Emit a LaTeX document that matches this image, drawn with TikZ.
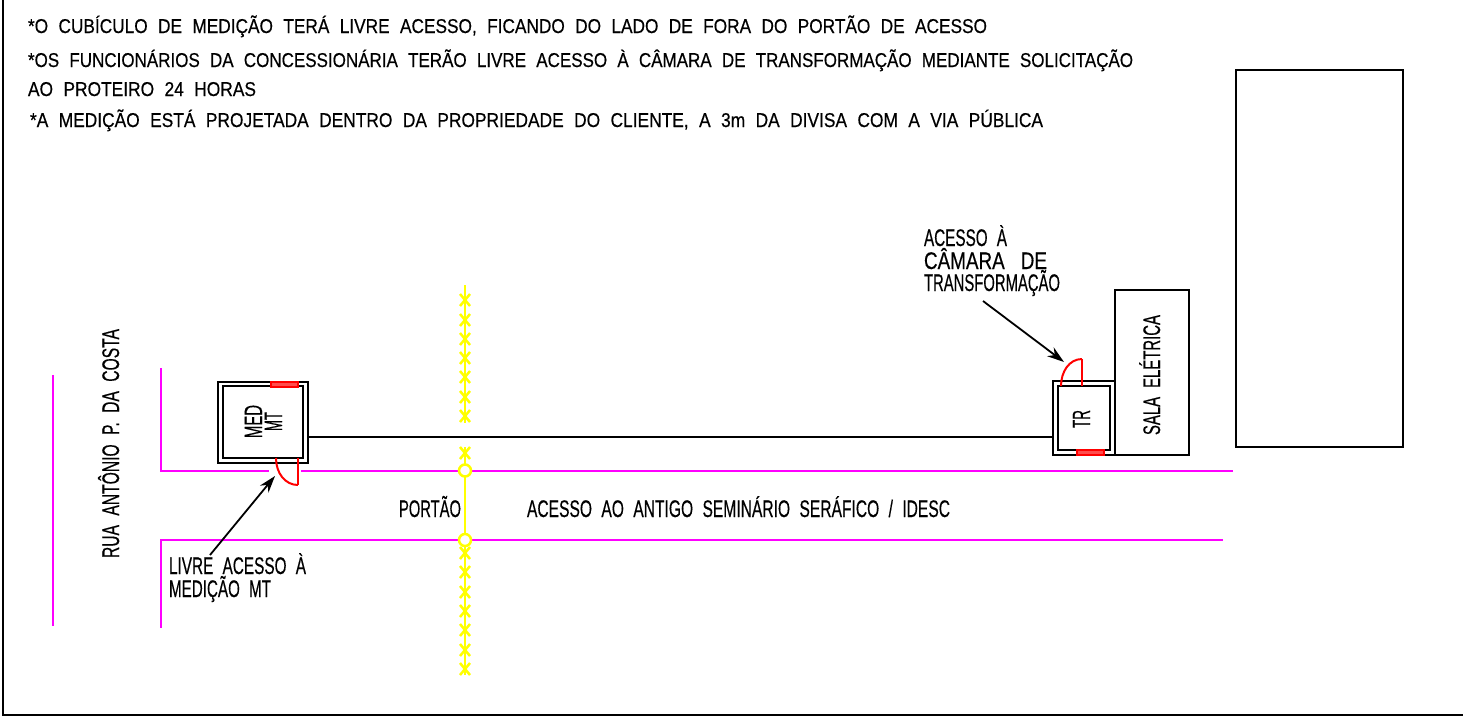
\documentclass[tikz,border=0pt]{standalone}
\usepackage{fontspec}
\usepackage{graphicx}
\setmainfont{Liberation Sans}[FakeBold=0.5]
\usetikzlibrary{arrows.meta}
\definecolor{cadmag}{RGB}{255,0,255}
\definecolor{cadyel}{RGB}{255,255,0}
\definecolor{cadred}{RGB}{255,0,0}
\newcommand{\fitw}[3]{\fontsize{#1}{#1}\selectfont\resizebox{#2pt}{\height}{#3}}
\newcommand{\wg}{\hspace{0.6em}}
\tikzset{
  x=1pt,y=-1pt,
  lbl/.style={anchor=base west,inner sep=0pt,outer sep=0pt,text=black},
  boxn/.style={draw=black,line width=2pt,inner sep=0pt,outer sep=0pt,anchor=north west},
  blk/.style={draw=black,line width=2pt},
  mag/.style={draw=cadmag,line width=2pt},
  yel/.style={draw=cadyel,line width=2.5pt},
  doorline/.style={draw=cadred,line width=2pt},
  redbar/.style={draw=cadred,fill=cadred!70!white,line width=1.5pt,inner sep=0pt,outer sep=0pt,anchor=north west},
  gatepost/.style={draw=cadyel,line width=2.5pt,fill=white,circle,inner sep=0pt,minimum size=12pt},
  callout/.style={draw=black,line width=1.8pt,-{Stealth[length=17pt,width=11pt]}}
}
\begin{document}
\begin{tikzpicture}
\useasboundingbox (0,0) rectangle (1463,720);
% frame
\draw[blk] (3,0) -- (3,715) -- (1463,715);
% notes
\node[lbl] (n1) at (28,33) {\fitw{20}{959}{*O\wg CUBÍCULO\wg DE\wg MEDIÇÃO\wg TERÁ\wg LIVRE\wg ACESSO,\wg FICANDO\wg DO\wg LADO\wg DE\wg FORA\wg DO\wg PORTÃO\wg DE\wg ACESSO}};
\node[lbl] (n2) at (28,67) {\fitw{20}{1105}{*OS\wg FUNCIONÁRIOS\wg DA\wg CONCESSIONÁRIA\wg TERÃO\wg LIVRE\wg ACESSO\wg À\wg CÂMARA\wg DE\wg TRANSFORMAÇÃO\wg MEDIANTE\wg SOLICITAÇÃO}};
\node[lbl] (n3) at (28,96) {\fitw{20}{228}{AO\wg PROTEIRO\wg 24\wg HORAS}};
\node[lbl] (n4) at (30,127) {\fitw{20}{1013}{*A\wg MEDIÇÃO\wg ESTÁ\wg PROJETADA\wg DENTRO\wg DA\wg PROPRIEDADE\wg DO\wg CLIENTE,\wg A\wg 3m\wg DA\wg DIVISA\wg COM\wg A\wg VIA\wg PÚBLICA}};
% building
\node[boxn,minimum width=167pt,minimum height=377pt] (bld) at (1236,70) {};
\node[boxn,minimum width=74pt,minimum height=165pt] (sala) at (1115,290) {};
\node[lbl,rotate=90] (salat) at (1160,435) {\fitw{24}{120}{SALA\wg ELÉTRICA}};
% magenta
\draw[mag] (53,375) -- (53,626);
\draw[mag] (161,368) -- (161,470.5) -- (269,470.5);
\draw[mag] (301,470.5) -- (1233,470.5);
\draw[mag] (161,628) -- (161,540) -- (1223,540);
% yellow fence
\coordinate (yt) at (465,285);
\coordinate (yb) at (465,423);
\coordinate (yc) at (465,447);
\coordinate (yd) at (465,675);
\draw[yel] (yt) -- (yb);
\draw[yel] (yc) -- (yd);
\foreach \yy in {300,320,339,358,377,397,416,453,553,572,592,611,630,650,669}
  \draw[yel] (460,\yy-6) -- (470,\yy+6) (470,\yy-6) -- (460,\yy+6);
\node[gatepost] (g1) at (465,470.5) {};
\node[gatepost] (g2) at (465,540) {};
% MED cubicle
\node[boxn,minimum width=90pt,minimum height=81pt] (medo) at (218,382) {};
\node[boxn,minimum width=80pt,minimum height=72pt] (medi) at (223,386) {};
\node[redbar,minimum width=27pt,minimum height=5pt] (medr) at (271,382) {};
\draw[doorline] (298,458) -- (298,485);
\draw[doorline] (276,458) .. controls (276,473) and (285,485) .. (298,485);
\node[lbl,rotate=90] (medt) at (262,438) {\fitw{25}{33}{MED}};
\node[lbl,rotate=90] (mtt) at (282,431) {\fitw{25}{19}{MT}};
% TR cubicle
\node[boxn,minimum width=62pt,minimum height=74pt] (tro) at (1053,381) {};
\node[boxn,minimum width=52.5pt,minimum height=64pt] (tri) at (1057.5,386) {};
\node[redbar,minimum width=27pt,minimum height=5pt] (trr) at (1077,450) {};
\draw[doorline] (1082,386) -- (1082,359);
\draw[doorline] (1082,359) .. controls (1069,359) and (1061,372) .. (1061,386);
\node[lbl,rotate=90] (trt) at (1090,428) {\fitw{25}{18}{TR}};
% conduit
\draw[blk] (medo.east |- 0,436.5) -- (tro.west |- 0,436.5);
% labels
\node[lbl] (port) at (399,517) {\fitw{24}{62}{PORTÃO}};
\node[lbl] (acc) at (527,517) {\fitw{24}{423}{ACESSO\wg AO\wg ANTIGO\wg SEMINÁRIO\wg SERÁFICO\wg /\wg IDESC}};
\node[lbl,rotate=90] (rua) at (119,558) {\fitw{24}{229}{RUA\wg ANTÔNIO\wg P.\wg DA\wg COSTA}};
\node[lbl] (l1) at (169,574) {\fitw{24}{137}{LIVRE\wg ACESSO\wg À}};
\node[lbl] (l2) at (169,597) {\fitw{24}{102}{MEDIÇÃO\wg MT}};
\node[lbl] (a1) at (924,246) {\fitw{24}{83}{ACESSO\wg À}};
\node[lbl] (a2) at (924,269) {\fitw{24}{123}{CÂMARA\hspace{0.85em}DE}};
\node[lbl] (a3) at (924,291) {\fitw{24}{136}{TRANSFORMAÇÃO}};
% callouts
\coordinate (c1) at (210,555);
\coordinate (c1e) at (275,476);
\coordinate (c2) at (983,301);
\coordinate (c2e) at (1064,362);
\draw[callout] (c1) -- (c1e);
\draw[callout] (c2) -- (c2e);
\end{tikzpicture}
\end{document}
